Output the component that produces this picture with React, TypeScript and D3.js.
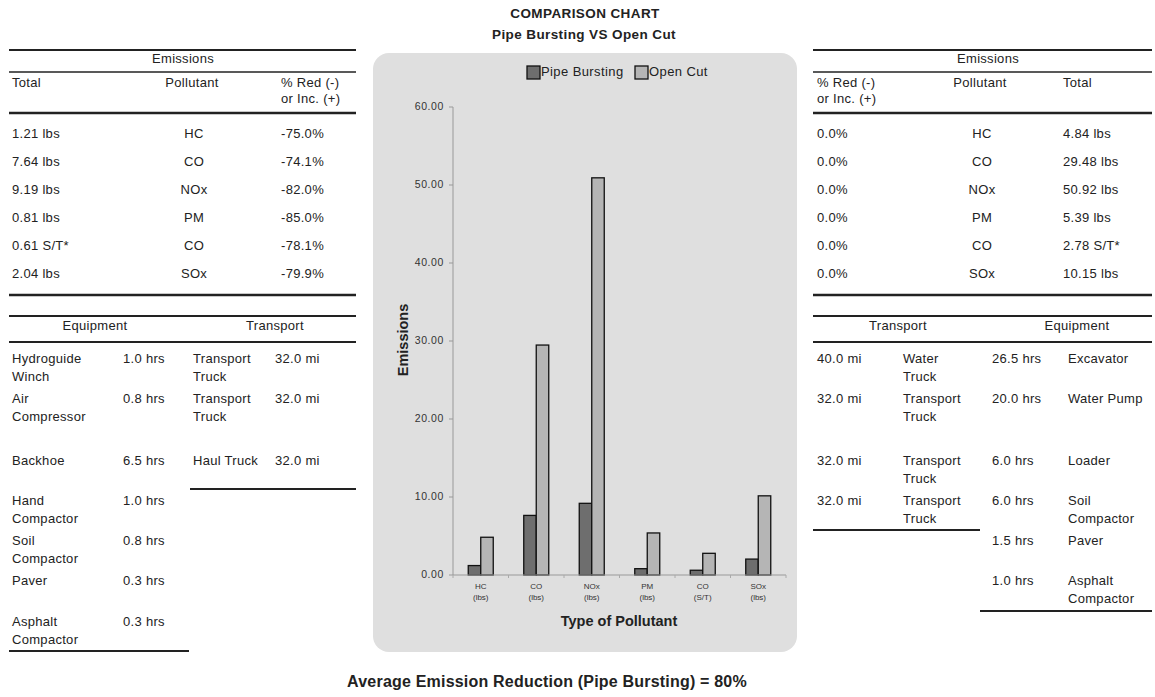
import React from "react";
import * as d3 from "d3";

// ---------- data ----------
const categories = ["HC", "CO", "NOx", "PM", "CO", "SOx"];
const units = ["(lbs)", "(lbs)", "(lbs)", "(lbs)", "(S/T)", "(lbs)"];
const pipeBursting = [1.21, 7.64, 9.19, 0.81, 0.61, 2.04];
const openCut = [4.84, 29.48, 50.92, 5.39, 2.78, 10.15];
const yTicks = [0, 10, 20, 30, 40, 50, 60];

const leftTotals = ["1.21 lbs", "7.64 lbs", "9.19 lbs", "0.81 lbs", "0.61 S/T*", "2.04 lbs"];
const leftPct = ["-75.0%", "-74.1%", "-82.0%", "-85.0%", "-78.1%", "-79.9%"];
const rightTotals = ["4.84 lbs", "29.48 lbs", "50.92 lbs", "5.39 lbs", "2.78 S/T*", "10.15 lbs"];
const rightPct = ["0.0%", "0.0%", "0.0%", "0.0%", "0.0%", "0.0%"];

const leftEquipment = [
  ["Hydroguide", "Winch"],
  ["Air", "Compressor"],
  ["Backhoe"],
  ["Hand", "Compactor"],
  ["Soil", "Compactor"],
  ["Paver"],
  ["Asphalt", "Compactor"],
];
const leftEquipHours = ["1.0 hrs", "0.8 hrs", "6.5 hrs", "1.0 hrs", "0.8 hrs", "0.3 hrs", "0.3 hrs"];
const leftTransport = [["Transport", "Truck"], ["Transport", "Truck"], ["Haul Truck"]];
const leftTransportMiles = ["32.0 mi", "32.0 mi", "32.0 mi"];

const rightTransportMiles = ["40.0 mi", "32.0 mi", "32.0 mi", "32.0 mi"];
const rightTransport = [["Water", "Truck"], ["Transport", "Truck"], ["Transport", "Truck"], ["Transport", "Truck"]];
const rightEquipHours = ["26.5 hrs", "20.0 hrs", "6.0 hrs", "6.0 hrs", "1.5 hrs", "1.0 hrs"];
const rightEquipment = [["Excavator"], ["Water Pump"], ["Loader"], ["Soil", "Compactor"], ["Paver"], ["Asphalt", "Compactor"]];

// ---------- layout ----------
const W = 1155;
const H = 697;
const FONT = "'Liberation Sans', Arial, sans-serif";
const TXT = "#222";
const rowY = [135, 163, 191, 219, 247, 275];
const subRowY = [360, 400, 462, 502, 542, 582, 623];
const LINE2 = 18;

const T = ({ x, y, children, anchor = "start", size = 13, weight = "normal", fill = TXT, ls = 0.3 }: any) => (
  <text x={x} y={y} textAnchor={anchor} fontSize={size} fontWeight={weight} fill={fill} fontFamily={FONT} dominantBaseline="middle" letterSpacing={ls}>
    {children}
  </text>
);

const Multi = ({ x, y, lines, anchor = "start" }: any) => (
  <>
    {lines.map((l: string, i: number) => (
      <T key={i} x={x} y={y + i * LINE2} anchor={anchor}>{l}</T>
    ))}
  </>
);

const HL = ({ x1, x2, y, w = 2 }: any) => <line x1={x1} x2={x2} y1={y} y2={y} stroke="#222" strokeWidth={w} />;

export default function App() {
  const x0 = 453, x1 = 786, yBase = 575, yTop = 107;
  const x = d3.scaleBand<number>().domain(d3.range(categories.length)).range([x0, x1]);
  const y = d3.scaleLinear().domain([0, 60]).range([yBase, yTop]);
  const bw = 12.5;
  const darkFill = "#6e6e6e";
  const lightFill = "#b5b5b5";

  return (
    <svg width={W} height={H} style={{ position: "absolute", left: 0, top: 0, background: "#fff" }}>
      {/* titles */}
      <T x={585} y={14} anchor="middle" size={13.5} weight="bold" ls={0.4}>COMPARISON CHART</T>
      <T x={584} y={35} anchor="middle" size={13.5} weight="bold" ls={0.4}>Pipe Bursting VS Open Cut</T>

      {/* chart panel */}
      <rect x={373} y={53} width={424} height={599} rx={16} ry={16} fill="#dfdfdf" />

      {/* legend */}
      <rect x={527} y={66} width={13} height={13} fill={darkFill} stroke="#111" strokeWidth={1.3} />
      <T x={541} y={72.5} size={13} ls={0.4}>Pipe Bursting</T>
      <rect x={635} y={66} width={13} height={13} fill={lightFill} stroke="#111" strokeWidth={1.3} />
      <T x={649} y={72.5} size={13} ls={0.4}>Open Cut</T>

      {/* y axis */}
      <line x1={x0} x2={x0} y1={yTop} y2={yBase} stroke="#999" strokeWidth={1} />
      {yTicks.map((t) => (
        <g key={t}>
          <line x1={x0 - 4} x2={x0} y1={y(t)} y2={y(t)} stroke="#999" />
          <T x={444} y={y(t)} anchor="end" size={10.5} fill="#333" ls={0.6}>{t.toFixed(2)}</T>
        </g>
      ))}
      <text transform={`translate(404,340) rotate(-90)`} textAnchor="middle" dominantBaseline="middle" fontSize={14.5} fontWeight="bold" fontFamily={FONT} fill={TXT}>Emissions</text>

      {/* bars */}
      {categories.map((c, i) => {
        const cx = (x(i) as number) + x.bandwidth() / 2;
        return (
          <g key={i}>
            <rect x={cx - bw} y={y(pipeBursting[i])} width={bw} height={yBase - y(pipeBursting[i])} fill={darkFill} stroke="#111" strokeWidth={1.3} />
            <rect x={cx} y={y(openCut[i])} width={bw} height={yBase - y(openCut[i])} fill={lightFill} stroke="#111" strokeWidth={1.3} />
            <T x={cx} y={587} anchor="middle" size={8} fill="#333" ls={0}>{c}</T>
            <T x={cx} y={598} anchor="middle" size={8} fill="#333" ls={0}>{units[i]}</T>
          </g>
        );
      })}

      {/* x axis */}
      <line x1={x0} x2={x1} y1={yBase} y2={yBase} stroke="#999" strokeWidth={1} />
      {d3.range(categories.length + 1).map((i) => (
        <line key={i} x1={x0 + i * x.step()} x2={x0 + i * x.step()} y1={yBase} y2={yBase + 3} stroke="#aaa" />
      ))}
      <T x={619} y={622} anchor="middle" size={14.5} weight="bold" ls={0}>Type of Pollutant</T>

      {/* left emissions table */}
      <HL x1={9} x2={356} y={50} />
      <T x={183} y={60} anchor="middle">Emissions</T>
      <HL x1={9} x2={356} y={72} w={1.5} />
      <T x={12} y={84}>Total</T>
      <T x={192} y={84} anchor="middle">Pollutant</T>
      <T x={281} y={84}>% Red (-)</T>
      <T x={281} y={100}>or Inc. (+)</T>
      <HL x1={9} x2={356} y={113} w={2.5} />
      {categories.map((c, i) => (
        <g key={i}>
          <T x={12} y={rowY[i]}>{leftTotals[i]}</T>
          <T x={194} y={rowY[i]} anchor="middle">{c}</T>
          <T x={281} y={rowY[i]}>{leftPct[i]}</T>
        </g>
      ))}
      <HL x1={9} x2={356} y={295} w={2.5} />

      {/* left equipment / transport */}
      <HL x1={9} x2={356} y={316} />
      <T x={95} y={327} anchor="middle">Equipment</T>
      <T x={275} y={327} anchor="middle">Transport</T>
      <HL x1={9} x2={356} y={342} w={2} />
      {leftEquipment.map((lines, i) => (
        <g key={i}>
          <Multi x={12} y={subRowY[i]} lines={lines} />
          <T x={123} y={subRowY[i]}>{leftEquipHours[i]}</T>
        </g>
      ))}
      {leftTransport.map((lines, i) => (
        <g key={i}>
          <Multi x={193} y={subRowY[i]} lines={lines} />
          <T x={275} y={subRowY[i]}>{leftTransportMiles[i]}</T>
        </g>
      ))}
      <HL x1={190} x2={356} y={489} />
      <HL x1={9} x2={189} y={651} />

      {/* right emissions table */}
      <HL x1={813} x2={1152} y={50} />
      <T x={988} y={60} anchor="middle">Emissions</T>
      <HL x1={813} x2={1152} y={72} w={1.5} />
      <T x={817} y={84}>% Red (-)</T>
      <T x={817} y={100}>or Inc. (+)</T>
      <T x={980} y={84} anchor="middle">Pollutant</T>
      <T x={1063} y={84}>Total</T>
      <HL x1={813} x2={1152} y={113} w={2.5} />
      {categories.map((c, i) => (
        <g key={i}>
          <T x={817} y={rowY[i]}>{rightPct[i]}</T>
          <T x={982} y={rowY[i]} anchor="middle">{c}</T>
          <T x={1063} y={rowY[i]}>{rightTotals[i]}</T>
        </g>
      ))}
      <HL x1={813} x2={1152} y={295} w={2.5} />

      {/* right transport / equipment */}
      <HL x1={813} x2={1152} y={316} />
      <T x={898} y={327} anchor="middle">Transport</T>
      <T x={1077} y={327} anchor="middle">Equipment</T>
      <HL x1={813} x2={1152} y={342} w={2} />
      {rightTransport.map((lines, i) => (
        <g key={i}>
          <T x={817} y={subRowY[i]}>{rightTransportMiles[i]}</T>
          <Multi x={903} y={subRowY[i]} lines={lines} />
        </g>
      ))}
      <HL x1={813} x2={980} y={530} />
      {rightEquipment.map((lines, i) => (
        <g key={i}>
          <T x={992} y={subRowY[i]}>{rightEquipHours[i]}</T>
          <Multi x={1068} y={subRowY[i]} lines={lines} />
        </g>
      ))}
      <HL x1={980} x2={1152} y={611} />

      {/* footer */}
      <T x={547} y={683} anchor="middle" size={16} weight="bold" ls={0.2}>Average Emission Reduction (Pipe Bursting) = 80%</T>
    </svg>
  );
}
